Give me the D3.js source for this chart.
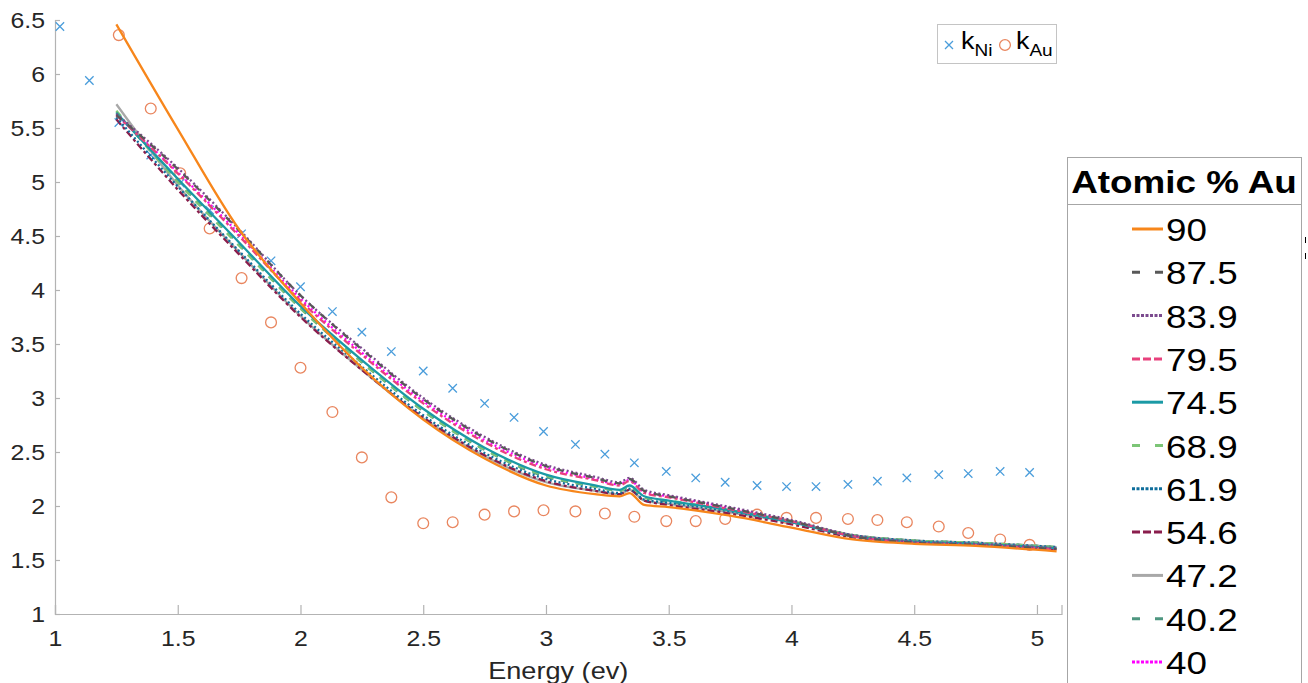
<!DOCTYPE html>
<html>
<head>
<meta charset="utf-8">
<script src="https://cdn.jsdelivr.net/npm/d3@7"></script>
<style>
  body { margin: 0; background: #fff; }
  svg { display: block; font-family: "Liberation Sans", Arial, sans-serif; }
</style>
</head>
<body>
<div id="chart-area"></div>
<script>
// optical constants k for pure Ni and Au (markers)
const energy = [1.02, 1.14, 1.26, 1.39, 1.51, 1.63, 1.76, 1.88, 2.00, 2.13, 2.25, 2.37, 2.50, 2.62, 2.75, 2.87, 2.99,
  3.12, 3.24, 3.36, 3.49, 3.61, 3.73, 3.86, 3.98, 4.10, 4.23, 4.35, 4.47, 4.60, 4.72, 4.85, 4.97];
const kNi = [6.44, 5.94, 5.55, 5.25, 4.99, 4.74, 4.52, 4.27, 4.03, 3.80, 3.61, 3.43, 3.25, 3.09, 2.95, 2.82, 2.69,
  2.57, 2.48, 2.40, 2.32, 2.26, 2.22, 2.19, 2.18, 2.18, 2.20, 2.23, 2.26, 2.29, 2.30, 2.32, 2.31];
const kAu = [null, null, 6.36, 5.68, 5.08, 4.57, 4.11, 3.70, 3.28, 2.87, 2.45, 2.08, 1.84, 1.85, 1.92, 1.95, 1.96,
  1.95, 1.93, 1.90, 1.86, 1.86, 1.88, 1.92, 1.89, 1.89, 1.88, 1.87, 1.85, 1.81, 1.75, 1.69, 1.64];

// alloy curves, sampled at these energies
const lineEnergy = [1.25, 1.5, 1.75, 2.0, 2.25, 2.5, 2.75, 3.0, 3.2, 3.3, 3.34, 3.4, 3.5, 3.75, 4.0, 4.25, 4.5, 4.75, 5.08];
const k90   = [6.46, 5.49, 4.56, 3.88, 3.28, 2.80, 2.44, 2.19, 2.11, 2.09, 2.12, 2.01, 1.99, 1.91, 1.80, 1.69, 1.65, 1.63, 1.58];
const k875  = [5.62, 5.12, 4.55, 3.95, 3.45, 2.99, 2.63, 2.37, 2.26, 2.21, 2.25, 2.14, 2.09, 1.98, 1.86, 1.72, 1.66, 1.64, 1.60];
const k839  = [5.63, 5.13, 4.56, 3.95, 3.46, 3.00, 2.64, 2.38, 2.27, 2.22, 2.26, 2.15, 2.10, 1.99, 1.87, 1.73, 1.67, 1.65, 1.61];
const k795  = [5.62, 5.08, 4.50, 3.90, 3.40, 2.95, 2.59, 2.34, 2.24, 2.19, 2.23, 2.12, 2.08, 1.97, 1.86, 1.72, 1.66, 1.64, 1.60];
const k745  = [5.64, 5.03, 4.44, 3.85, 3.35, 2.90, 2.54, 2.29, 2.19, 2.15, 2.19, 2.09, 2.05, 1.96, 1.85, 1.72, 1.67, 1.65, 1.61];
const k689  = [5.66, 5.00, 4.41, 3.83, 3.33, 2.88, 2.52, 2.28, 2.18, 2.14, 2.18, 2.08, 2.05, 1.96, 1.86, 1.73, 1.68, 1.66, 1.62];
const k619  = [5.60, 4.96, 4.36, 3.78, 3.29, 2.84, 2.49, 2.25, 2.16, 2.12, 2.16, 2.06, 2.03, 1.95, 1.85, 1.73, 1.68, 1.66, 1.62];
const k546  = [5.58, 4.93, 4.33, 3.75, 3.26, 2.82, 2.47, 2.23, 2.14, 2.11, 2.15, 2.05, 2.01, 1.93, 1.83, 1.71, 1.66, 1.64, 1.60];
const k472  = [5.72, 4.97, 4.35, 3.76, 3.26, 2.81, 2.46, 2.22, 2.14, 2.11, 2.15, 2.05, 2.02, 1.94, 1.85, 1.73, 1.68, 1.66, 1.62];
const k402  = [5.65, 5.01, 4.42, 3.83, 3.33, 2.88, 2.52, 2.27, 2.18, 2.14, 2.18, 2.08, 2.04, 1.96, 1.85, 1.73, 1.68, 1.66, 1.62];
const k400  = [5.62, 5.09, 4.52, 3.92, 3.42, 2.97, 2.61, 2.36, 2.25, 2.20, 2.24, 2.13, 2.09, 1.98, 1.86, 1.72, 1.66, 1.64, 1.60];

const xTicks = [1, 1.5, 2, 2.5, 3, 3.5, 4, 4.5, 5];
const yTicks = [1, 1.5, 2, 2.5, 3, 3.5, 4, 4.5, 5, 5.5, 6, 6.5];

const series = [
  { name: '90',   k: k90,  color: '#f7861b', dash: null },
  { name: '87.5', k: k875, color: '#585858', dash: '7,8' },
  { name: '83.9', k: k839, color: '#7b4a8e', dash: '2,2.5' },
  { name: '79.5', k: k795, color: '#e8417c', dash: '7,3,3,3' },
  { name: '74.5', k: k745, color: '#1b9aa5', dash: null },
  { name: '68.9', k: k689, color: '#7cc576', dash: '7,8' },
  { name: '61.9', k: k619, color: '#0f6e9c', dash: '2,2.5' },
  { name: '54.6', k: k546, color: '#8a1d4c', dash: '7,3,3,3' },
  { name: '47.2', k: k472, color: '#a8a8a8', dash: null },
  { name: '40.2', k: k402, color: '#4e9680', dash: '7,8' },
  { name: '40',   k: k400, color: '#ff00ff', dash: '2,2.5' }
];

const W = 1308, H = 683;
const svg = d3.select('#chart-area').append('svg')
  .attr('width', W).attr('height', H);

const x = d3.scaleLinear().domain([1, 5.1]).range([55, 1061.5]);
const y = d3.scaleLinear().domain([1, 6.5]).range([614, 20]);

const stretch = 1.13;

// axes
const xAxis = d3.axisBottom(x).tickValues(xTicks).tickSize(-9).tickPadding(0)
  .tickFormat(d3.format('~g'));
const yAxis = d3.axisLeft(y).tickValues(yTicks).tickSize(-5).tickPadding(0)
  .tickFormat(d3.format('~g'));

const gx = svg.append('g').attr('transform', 'translate(0,' + y(1) + ')').call(xAxis);
const gy = svg.append('g').attr('transform', 'translate(' + x(1) + ',0)').call(yAxis);

[gx, gy].forEach((g) => {
  g.select('.domain').attr('stroke', '#b3b3b3').attr('stroke-width', 1.2);
  g.selectAll('.tick line').attr('stroke', '#b3b3b3').attr('stroke-width', 1.2);
  g.selectAll('.tick text')
    .attr('fill', '#262626')
    .attr('font-size', '22px')
    .attr('font-family', '"Liberation Sans", Arial, sans-serif');
});
gx.selectAll('.tick text').attr('y', 0).attr('dy', 0)
  .attr('transform', 'translate(0,32) scale(' + stretch + ',1)');
gy.selectAll('.tick text').attr('x', 0).attr('dy', '0.36em')
  .attr('transform', 'translate(-10,0) scale(' + stretch + ',1)');

svg.append('text')
  .attr('transform', 'translate(' + ((x(1) + x(5.1)) / 2) + ',679) scale(1.13,1)')
  .attr('text-anchor', 'middle')
  .attr('font-size', '24px')
  .attr('fill', '#262626')
  .text('Energy (ev)');

// markers first, lines drawn over them
const markers = svg.append('g');
markers.selectAll('.ni')
  .data(energy.map((e, i) => ({ e: e, k: kNi[i] })))
  .enter().append('path')
  .attr('class', 'ni')
  .attr('d', (d) => {
    const cx = x(d.e), cy = y(d.k), s = 4.2;
    return 'M' + (cx - s) + ',' + (cy - s) + 'L' + (cx + s) + ',' + (cy + s) +
      'M' + (cx - s) + ',' + (cy + s) + 'L' + (cx + s) + ',' + (cy - s);
  })
  .attr('stroke', '#4a9ddb').attr('stroke-width', 1.3).attr('fill', 'none');

markers.selectAll('.au')
  .data(energy.map((e, i) => ({ e: e, k: kAu[i] })).filter((d) => d.k !== null))
  .enter().append('circle')
  .attr('class', 'au')
  .attr('cx', (d) => x(d.e))
  .attr('cy', (d) => y(d.k))
  .attr('r', 5.4)
  .attr('stroke', '#e9865f').attr('stroke-width', 1.3).attr('fill', 'none');

const line = d3.line()
  .x((d) => x(d[0]))
  .y((d) => y(d[1]))
  .curve(d3.curveMonotoneX);

// draw the bundle from the last series to the first so the top-listed ones sit on top
svg.append('g').selectAll('path')
  .data(series.slice().reverse())
  .enter().append('path')
  .attr('d', (s) => line(lineEnergy.map((e, i) => [e, s.k[i]])))
  .attr('fill', 'none')
  .attr('stroke', (s) => s.color)
  .attr('stroke-width', 2.3)
  .attr('stroke-dasharray', (s) => s.dash);

// k legend (top)
const kLeg = svg.append('g');
kLeg.append('rect')
  .attr('x', 937.5).attr('y', 24.5).attr('width', 119).attr('height', 39)
  .attr('fill', '#fff').attr('stroke', '#c4c4c4').attr('stroke-width', 1);
kLeg.append('path')
  .attr('d', 'M945,41L953,49M945,49L953,41')
  .attr('stroke', '#4a9ddb').attr('stroke-width', 1.3);
kLeg.append('circle')
  .attr('cx', 1005).attr('cy', 45).attr('r', 5.4)
  .attr('fill', 'none').attr('stroke', '#e9865f').attr('stroke-width', 1.3);
[{ tx: 961, sub: 'Ni' }, { tx: 1016, sub: 'Au' }].forEach((d) => {
  const t = kLeg.append('text')
    .attr('transform', 'translate(' + d.tx + ',49) scale(1.12,1)')
    .attr('font-size', '24px').attr('fill', '#000');
  t.append('tspan').text('k');
  t.append('tspan').attr('font-size', '17px').attr('dy', 7).text(d.sub);
});

// composition legend (right)
const leg = svg.append('g');
leg.append('rect')
  .attr('x', 1067.5).attr('y', 157.5).attr('width', 234).attr('height', 540)
  .attr('fill', '#fff').attr('stroke', '#a6a6a6').attr('stroke-width', 1);
leg.append('line')
  .attr('x1', 1067.5).attr('x2', 1301.5).attr('y1', 204.5).attr('y2', 204.5)
  .attr('stroke', '#a6a6a6').attr('stroke-width', 1);
leg.append('text')
  .attr('transform', 'translate(1184,193) scale(1.15,1)')
  .attr('text-anchor', 'middle')
  .attr('font-size', '32px').attr('font-weight', 'bold').attr('fill', '#000')
  .text('Atomic % Au');

const row = d3.scaleLinear().domain([0, 10]).range([229, 662]);
const rows = leg.selectAll('.row').data(series).enter().append('g')
  .attr('class', 'row')
  .attr('transform', (s, i) => 'translate(0,' + row(i) + ')');
rows.append('line')
  .attr('x1', 1132).attr('x2', 1163).attr('y1', 0).attr('y2', 0)
  .attr('stroke', (s) => s.color).attr('stroke-width', 3)
  .attr('stroke-dasharray', (s) => s.dash === '7,8' ? '8,15' : s.dash === '7,3,3,3' ? '8,3' : s.dash === '2,2.5' ? '3,1.5' : null);
rows.append('text')
  .attr('transform', 'translate(1166,12) scale(1.15,1)')
  .attr('font-size', '32px').attr('fill', '#000')
  .text((s) => s.name);

// clipped fragments at the right edge
svg.append('line').attr('x1', 1305.5).attr('x2', 1305.5).attr('y1', 237).attr('y2', 243)
  .attr('stroke', '#000').attr('stroke-width', 1);
svg.append('line').attr('x1', 1305.5).attr('x2', 1305.5).attr('y1', 253).attr('y2', 259)
  .attr('stroke', '#000').attr('stroke-width', 1);
</script>
</body>
</html>
